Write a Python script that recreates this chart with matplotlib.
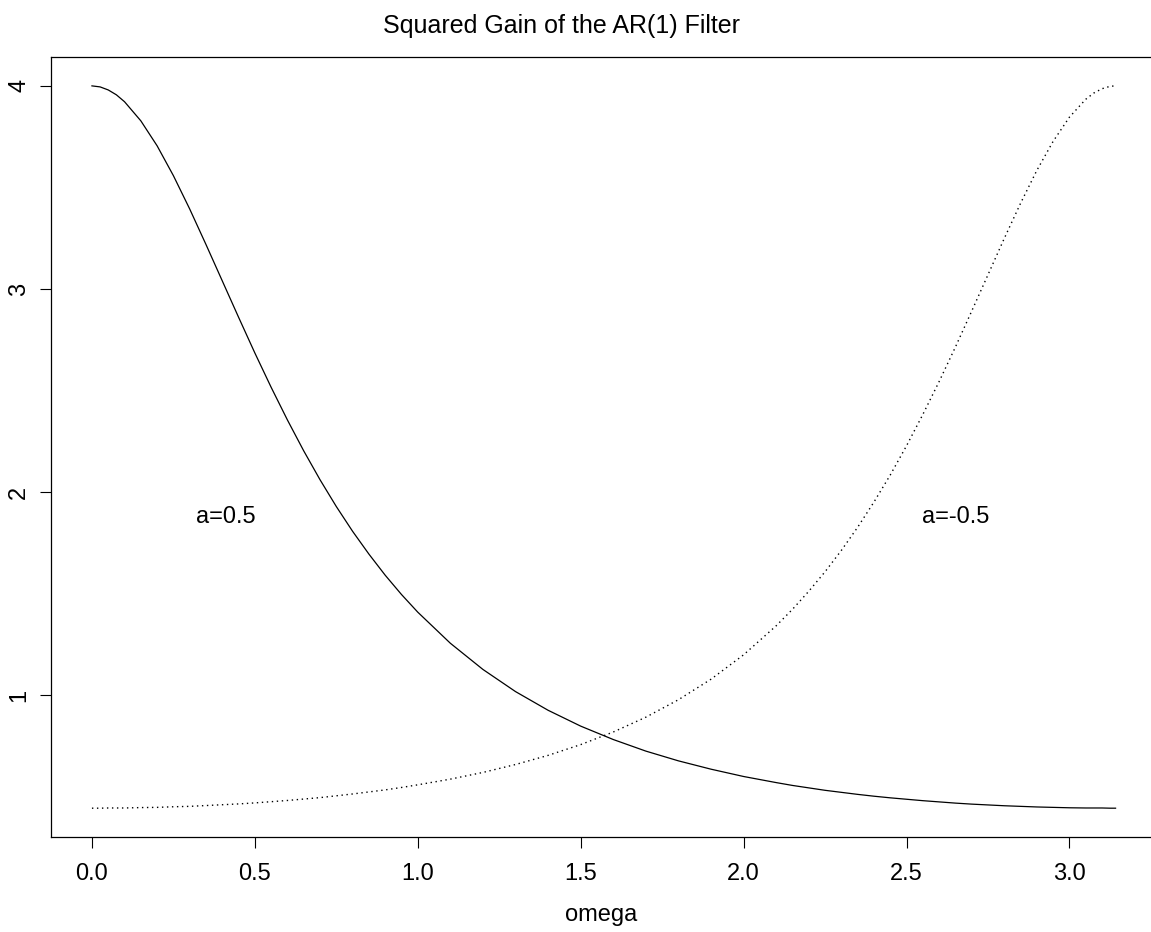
import matplotlib.pyplot as plt

plt.rcParams['font.family'] = ['Liberation Sans', 'DejaVu Sans']

# omega grid and squared gain values
omega = [0.0, 0.025, 0.05, 0.075, 0.1, 0.15, 0.2, 0.25, 0.3, 0.35, 0.4, 0.45, 0.5,
         0.55, 0.6, 0.65, 0.7, 0.75, 0.8, 0.85, 0.9, 0.95, 1.0,
         1.1, 1.2, 1.3, 1.4, 1.5, 1.6, 1.7, 1.8, 1.9, 2.0, 2.1,
         2.15, 2.2, 2.25, 2.3, 2.35, 2.4, 2.45, 2.5, 2.55, 2.6,
         2.65, 2.7, 2.75, 2.8, 2.85, 2.9, 2.95, 3.0, 3.05, 3.075, 3.1,
         3.125, 3.1416]
# a = 0.5 (solid)
gain_pos = [4.000, 3.995, 3.980, 3.956, 3.922, 3.828, 3.705, 3.558, 3.394, 3.219, 3.040, 2.861, 2.685,
            2.516, 2.355, 2.203, 2.061, 1.929, 1.807, 1.695, 1.591, 1.496, 1.409,
            1.256, 1.127, 1.018, 0.926, 0.848, 0.782, 0.725, 0.677, 0.636, 0.600, 0.570,
            0.556, 0.544, 0.532, 0.522, 0.512, 0.503, 0.495, 0.488, 0.481, 0.475,
            0.469, 0.464, 0.460, 0.456, 0.453, 0.450, 0.448, 0.446, 0.445, 0.445, 0.445,
            0.444, 0.444]
# a = -0.5 (dotted)
gain_neg = [0.444, 0.444, 0.445, 0.445, 0.445, 0.447, 0.448, 0.451, 0.453, 0.457, 0.461, 0.465, 0.470,
            0.476, 0.482, 0.489, 0.496, 0.505, 0.514, 0.524, 0.534, 0.546, 0.559,
            0.587, 0.620, 0.659, 0.704, 0.757, 0.819, 0.892, 0.978, 1.079, 1.199, 1.342,
            1.423, 1.512, 1.608, 1.713, 1.827, 1.951, 2.084, 2.228, 2.382, 2.544,
            2.714, 2.891, 3.070, 3.249, 3.422, 3.584, 3.727, 3.846, 3.934, 3.965, 3.986,
            3.998, 4.000]

xticks = [0.0, 0.5, 1.0, 1.5, 2.0, 2.5, 3.0]
yticks = [1, 2, 3, 4]

fig = plt.figure(figsize=(11.51, 9.32), dpi=100)
ax = fig.add_axes([0.0443, 0.1019, 0.9605, 0.8369])

ax.plot(omega, gain_pos, color='black', lw=0.9)
ax.plot(omega, gain_neg, color='black', lw=1.0, dashes=(1, 2.6))

ax.text(0.41, 1.88, 'a=0.5', fontsize=17, ha='center', va='center')
ax.text(2.65, 1.88, 'a=-0.5', fontsize=17, ha='center', va='center')

ax.set_xlim(-0.1257, 3.2673)
ax.set_ylim(0.302, 4.142)
ax.set_xticks(xticks)
ax.set_xticklabels(['%.1f' % t for t in xticks])
ax.set_yticks(yticks)
ax.set_yticklabels([str(t) for t in yticks], rotation=90, va='center')
ax.tick_params(direction='out', length=8, width=0.8, labelsize=17)
ax.tick_params(axis='x', pad=11)
ax.tick_params(axis='y', pad=7)
for s in ax.spines.values():
    s.set_linewidth(0.9)

ax.set_xlabel('omega', fontsize=17, va='baseline')
ax.xaxis.set_label_coords(0.498, -0.1077)
fig.text(0.488, 0.9646, 'Squared Gain of the AR(1) Filter', fontsize=18,
         ha='center', va='baseline')

fig.savefig('out.png', dpi=100)
